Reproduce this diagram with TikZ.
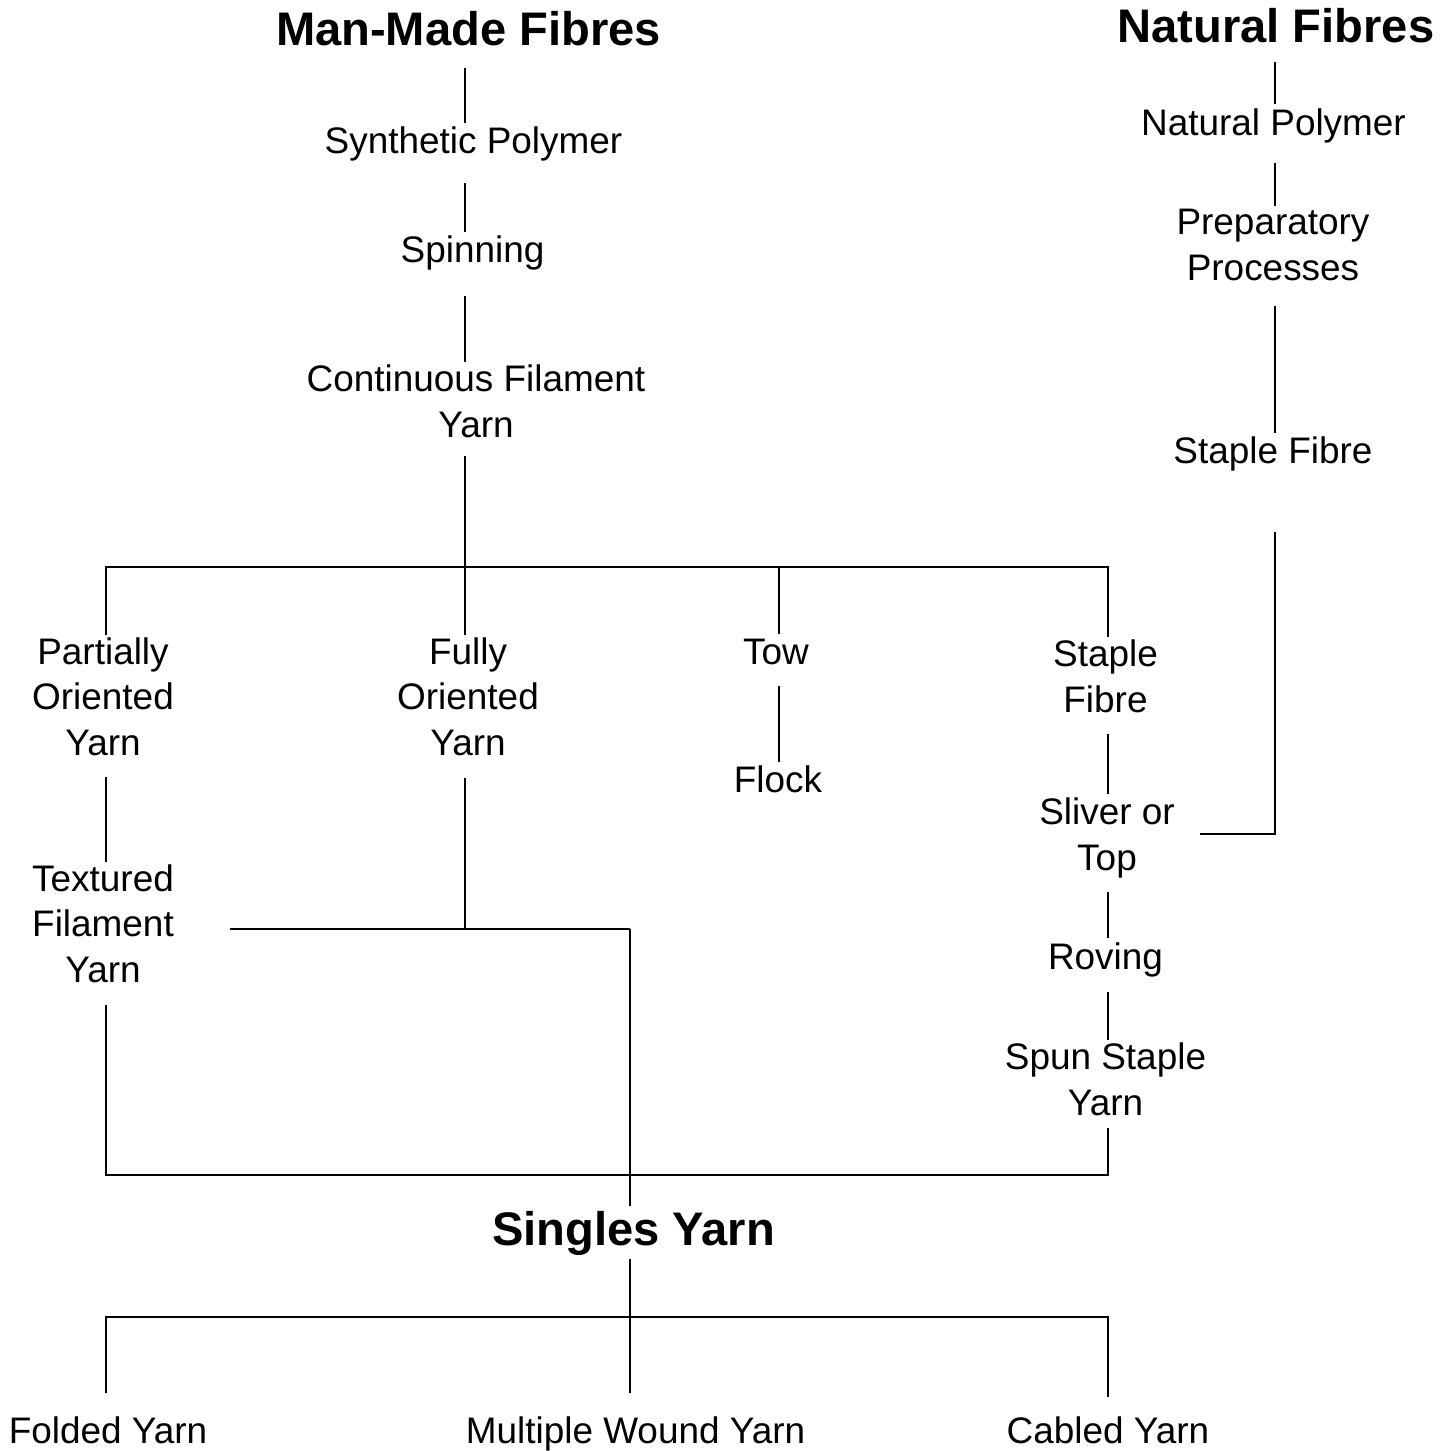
\documentclass[tikz,border=0pt]{standalone}
\usepackage{fontspec}
\setmainfont{Liberation Sans}
\usetikzlibrary{calc}

\tikzset{
  txt/.style={inner sep=0pt, outer sep=0pt, align=center, anchor=south,
    text depth=0pt, font=\fontsize{10.5}{12.9}\selectfont},
  head/.style={txt, font=\fontsize{13.4}{16}\selectfont\bfseries},
  link/.style={black, line width=0.8pt},
}

\begin{document}
\begin{tikzpicture}[x=0.01cm, y=-0.01cm]

    \useasboundingbox (0,0) rectangle (1456,1451);

    % titulos
    \node[head] (mmf) at (468.5,45) {Man-Made Fibres};
    \node[head] (nf) at (1276,42) {Natural Fibres};
    \node[head] (sy) at (633.5,1245) {Singles Yarn};

    % rama artificial
    \node[txt] (sp) at (473.5,153) {Synthetic Polymer};
    \node[txt] (spin) at (472.5,262) {Spinning};
    \node[txt] (cfy) at (476,437) {Continuous Filament\\Yarn};
    \node[txt] (poy) at (103,755) {Partially\\Oriented\\Yarn};
    \node[txt] (foy) at (468,755) {Fully\\Oriented\\Yarn};
    \node[txt] (tow) at (776,664) {Tow};
    \node[txt] (flock) at (778,792) {Flock};
    \node[txt] (sf) at (1105.5,712) {Staple\\Fibre};
    \node[txt] (slv) at (1107,870) {Sliver or\\Top};
    \node[txt] (rov) at (1105.5,969) {Roving};
    \node[txt] (ssy) at (1105.5,1115) {Spun Staple\\Yarn};
    \node[txt] (tfy) at (103,982) {Textured\\Filament\\Yarn};

    % rama natural
    \node[txt] (np) at (1273.5,135) {Natural Polymer};
    \node[txt] (pp) at (1273,280) {Preparatory\\Processes};
    \node[txt] (nsf) at (1273,463) {Staple Fibre};

    % productos
    \node[txt] (fy) at (108,1443) {Folded Yarn};
    \node[txt] (mwy) at (635.5,1443) {Multiple Wound Yarn};
    \node[txt] (cy) at (1108,1443) {Cabled Yarn};

    % puntos de union
    \coordinate (tj) at (779,567);
    \coordinate (bus1) at (1108,567);
    \coordinate (mj) at (630,929);
    \coordinate (bus2) at (1108,1175);
    \coordinate (bus3) at (1108,1317);

    % eje central
    \draw[link] ($(mmf.south)+(-3.5,23)$) -- ($(sp.north)+(-8.5,-3)$);
    \draw[link] ($(sp.south)+(-8.5,30)$) -- ($(spin.north)+(-7.5,-3)$);
    \draw[link] ($(spin.south)+(-7.5,34)$) -- ($(cfy.north)+(-11,-3)$);
    \draw[link] ($(cfy.south)+(-11,19)$) -- ($(foy.north)+(-3,-3)$);

    % barra superior
    \draw[link] ($(poy.north)+(3,-3)$) |- (bus1) -- ($(sf.north)+(2.5,-3)$);
    \draw[link] (tj) -- ($(tow.north)+(3,-4.5)$);
    \draw[link] ($(tow.south)+(3,22)$) -- ($(flock.north)+(1,-3.5)$);

    % filamento
    \draw[link] ($(poy.south)+(3,22)$) -- ($(tfy.north)+(3,-3)$);
    \draw[link] ($(foy.south)+(-3,23)$) |- (mj);
    \draw[link, shorten >=0.56cm] (mj) -- (mj -| tfy.east);
    \draw[link] (mj) -- ($(sy.north)+(-3.5,-4.5)$);

    % fibra cortada
    \draw[link] ($(sf.south)+(2.5,22)$) -- ($(slv.north)+(1,-4)$);
    \draw[link] ($(slv.south)+(1,22)$) -- ($(rov.north)+(2.5,-4)$);
    \draw[link] ($(rov.south)+(2.5,23)$) -- ($(ssy.north)+(2.5,-3)$);

    % barra inferior
    \draw[link] ($(tfy.south)+(3,23)$) |- (bus2) -- ($(ssy.south)+(2.5,13)$);

    % fibras naturales
    \draw[link] ($(nf.south)+(-1,20)$) -- ($(np.north)+(1.5,-4.5)$);
    \draw[link] ($(np.south)+(1.5,28)$) -- ($(pp.north)+(2,-3)$);
    \draw[link] ($(pp.south)+(2,26)$) -- ($(nsf.north)+(2,-3)$);
    \draw[link, shorten >=0.25cm] ($(nsf.south)+(2,69)$) |- (slv.east);

    % hilos finales
    \draw[link] ($(sy.south)+(-3.5,14)$) -- ($(mwy.north)+(-5.5,-23)$);
    \draw[link] ($(fy.north)+(-2,-23)$) |- (bus3) -- ($(cy.north)+(0,-19)$);

\end{tikzpicture}
\end{document}
